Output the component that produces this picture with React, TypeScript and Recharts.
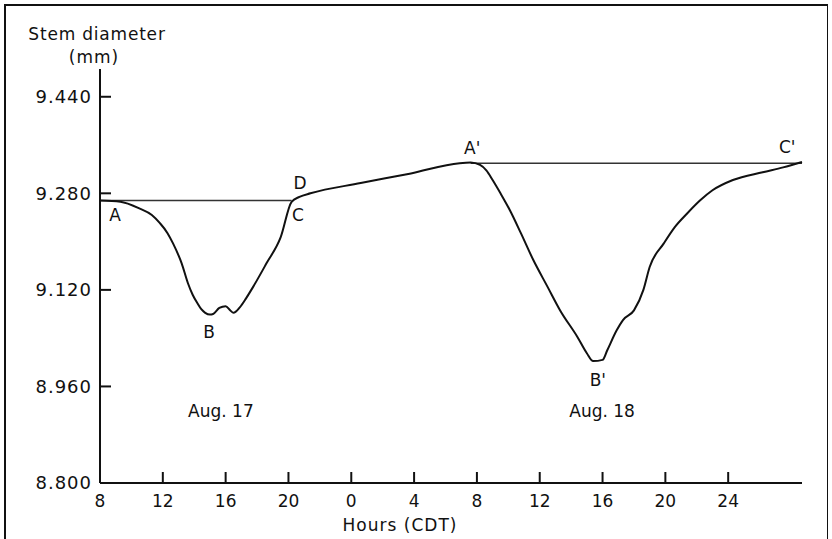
import React from "react";
import {
  LineChart,
  Line,
  XAxis,
  YAxis,
  ReferenceLine,
  ReferenceDot,
} from "recharts";

// hours counted from midnight Aug 17 (24 = midnight Aug 18)
const hours = [
  8, 9.3, 10.5, 11.3, 11.8, 12.3, 12.65, 13.2, 13.6, 13.9, 14.2, 14.45, 14.7,
  15.0, 15.2, 15.6, 16.0, 16.3, 16.5, 16.9, 17.3, 17.75, 18.6, 19.5, 20.2,
  20.7, 21.4, 24.6, 27.8, 30.9, 31.6, 32.2, 32.6, 33.0, 33.5, 34.1, 34.8,
  35.6, 36.5, 37.3, 38.4, 39.0, 39.4, 40.0, 40.3, 40.9, 41.3, 42.0, 42.6,
  43.0, 43.9, 44.6, 45.4, 46.2, 47.0, 48.3, 50.2, 51.5, 52.7,
];

const diameter = [
  9.268, 9.266, 9.255, 9.244, 9.231, 9.214, 9.197, 9.164, 9.131, 9.112, 9.098,
  9.088, 9.082, 9.079, 9.08, 9.09, 9.093, 9.086, 9.082, 9.091, 9.106, 9.125,
  9.164, 9.207, 9.266, 9.274, 9.28, 9.297, 9.313, 9.33, 9.331, 9.327, 9.318,
  9.302, 9.28, 9.252, 9.214, 9.169, 9.125, 9.086, 9.042, 9.015, 9.002, 9.004,
  9.02, 9.053, 9.07, 9.086, 9.12, 9.158, 9.197, 9.224, 9.247, 9.268, 9.285,
  9.302, 9.315, 9.323, 9.332,
];

const hourTicks = [8, 12, 16, 20, 24, 28, 32, 36, 40, 44, 48];
const hourLabels = ["8", "12", "16", "20", "0", "4", "8", "12", "16", "20", "24"];
const diameterTicks = [8.8, 8.96, 9.12, 9.28, 9.44];

// horizontal reference levels (start hour, end hour, diameter)
const baselines = [
  { from: 8, to: 20.2, level: 9.268 },
  { from: 31.6, to: 52.7, level: 9.33 },
];

// point labels placed in data units
const pointLabels = [
  { text: "A", hour: 8.96, value: 9.244 },
  { text: "B", hour: 14.94, value: 9.05 },
  { text: "C", hour: 20.61, value: 9.244 },
  { text: "D", hour: 20.74, value: 9.297 },
  { text: "A'", hour: 31.7, value: 9.355 },
  { text: "B'", hour: 39.7, value: 8.971 },
  { text: "C'", hour: 51.76, value: 9.356 },
  { text: "Aug. 17", hour: 15.7, value: 8.919 },
  { text: "Aug. 18", hour: 39.97, value: 8.919 },
];

const data = hours.map((h, i) => ({ h, d: diameter[i] }));

const ink = "#111";

export default function App() {
  return (
    <div
      style={{
        position: "absolute",
        left: 0,
        top: 0,
        width: 832,
        height: 539,
        background: "#fff",
        fontFamily: "'DejaVu Sans', sans-serif",
      }}
    >
      <div
        style={{
          position: "absolute",
          left: 4,
          top: 4,
          width: 824,
          height: 540,
          borderLeft: `2px solid ${ink}`,
          borderTop: `2px solid ${ink}`,
          borderRight: `1px solid ${ink}`,
          boxSizing: "border-box",
        }}
      />
      <LineChart
        width={832}
        height={539}
        data={data}
        margin={{ top: 69, right: 30, bottom: 0, left: 0 }}
      >
        <XAxis
          dataKey="h"
          type="number"
          domain={[8, 52.7]}
          ticks={hourTicks}
          tickFormatter={(v) => hourLabels[hourTicks.indexOf(v)] ?? ""}
          height={56}
          tickSize={-11}
          tickMargin={23}
          stroke={ink}
          strokeWidth={2}
          tick={{ fontSize: 17, fill: ink }}
          label={{
            content: () => (
              <text x={400} y={531} textAnchor="middle" fontSize={17} fill={ink} letterSpacing={1}>
                Hours (CDT)
              </text>
            ),
          }}
        />
        <YAxis
          type="number"
          domain={[8.8, 9.486]}
          ticks={diameterTicks}
          tickFormatter={(v) => v.toFixed(3)}
          width={100}
          tickSize={-11}
          tickMargin={19}
          stroke={ink}
          strokeWidth={2}
          tick={{ fontSize: 18, fill: ink, letterSpacing: 1 }}
          label={{
            content: () => (
              <g>
                <text x={97} y={40} textAnchor="middle" fontSize={17} fill={ink} letterSpacing={0.8}>
                  Stem diameter
                </text>
                <text x={94} y={63} textAnchor="middle" fontSize={17} fill={ink} letterSpacing={1}>
                  (mm)
                </text>
              </g>
            ),
          }}
        />
        {baselines.map((b, i) => (
          <ReferenceLine
            key={i}
            segment={[
              { x: b.from, y: b.level },
              { x: b.to, y: b.level },
            ]}
            stroke="#333"
            strokeWidth={1.5}
          />
        ))}
        <Line
          type="monotone"
          dataKey="d"
          stroke={ink}
          strokeWidth={2}
          dot={false}
          isAnimationActive={false}
        />
        {pointLabels.map((p, i) => (
          <ReferenceDot
            key={i}
            x={p.hour}
            y={p.value}
            r={0}
            fill="none"
            stroke="none"
            label={{ value: p.text, position: "center", fontSize: 17, fill: ink }}
          />
        ))}
      </LineChart>
    </div>
  );
}
